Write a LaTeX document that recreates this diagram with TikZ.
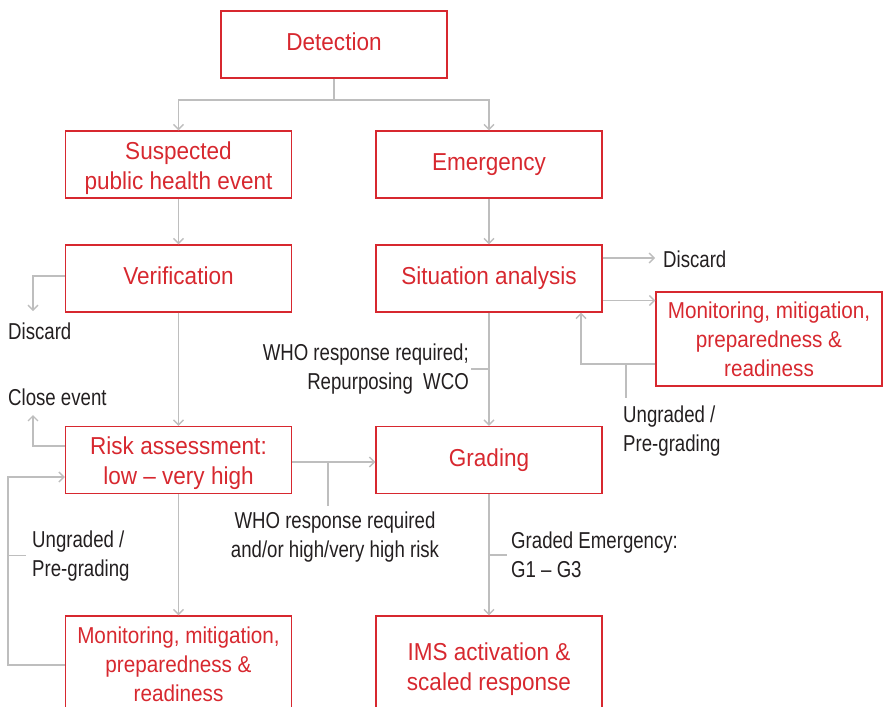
\documentclass[tikz,border=0pt]{standalone}
\usepackage{fontspec}
\setmainfont{Liberation Sans}
\newfontfamily\boxfont[FakeStretch=0.92]{Liberation Sans}
\newfontfamily\monfont[FakeStretch=0.90]{Liberation Sans}
\newfontfamily\labfont[FakeStretch=0.81]{Liberation Sans}
\usetikzlibrary{arrows.meta}
\definecolor{whored}{HTML}{D7282F}
\definecolor{flowgray}{HTML}{BEBEBE}
\definecolor{notegray}{HTML}{231F20}
\newcommand{\topgap}[1]{\rule{0pt}{#1pt}}

\begin{document}
\begin{tikzpicture}[x=1pt,y=-1pt]
\tikzstyle{every node}+=[inner sep=0pt]
\tikzstyle{stage}=[draw=whored, line width=1.4pt, text=whored, align=center, minimum width=226pt, minimum height=67pt, font=\boxfont\fontsize{24.5}{30}\selectfont]
\tikzstyle{oneline}=[stage, text height=17.5pt, text depth=5.2pt]
\tikzstyle{tallstage}=[stage, minimum height=94pt, font=\monfont\fontsize{23}{29}\selectfont]
\tikzstyle{note}=[text=notegray, align=left, font=\labfont\fontsize{23}{29}\selectfont]
\tikzstyle{flow}=[draw=flowgray, line width=1.3pt]
\tikzstyle{flowarr}=[flow, -{Straight Barb[length=5pt,width=10pt]}]
\useasboundingbox (0,0) rectangle (884,707);
\clip (0,0) rectangle (884,707);
% stages
\node[oneline] (detect) at (334,44.5) {Detection};
\node[stage] (suspect) at (178.5,164.5) {\topgap{26}Suspected\\public health event};
\node[oneline] (emerg) at (489,164.5) {Emergency};
\node[oneline] (verif) at (178.5,278.5) {Verification};
\node[oneline] (situ) at (489,278.5) {Situation analysis};
\node[tallstage] (monR) at (769,339) {Monitoring, mitigation,\\preparedness \&\\readiness};
\node[stage] (risk) at (178.5,460) {\topgap{23.5}Risk assessment:\\low – very high};
\node[oneline] (grading) at (489,460) {Grading};
\node[tallstage, minimum height=97pt] (monB) at (178.5,664.5) {Monitoring, mitigation,\\preparedness \&\\readiness};
\node[stage, minimum height=106pt] (ims) at (489,669) {IMS activation \&\\scaled response};
% notes
\node[note, anchor=west] (discL) at (8,331) {Discard};
\node[note, anchor=west] (closeEv) at (8,397) {Close event};
\node[note, anchor=west] (discR) at (663,259) {Discard};
\node[note, align=right, anchor=east] (whoRep) at (469,369) {WHO response required;\\Repurposing~~WCO};
\node[note, anchor=west] (ungR) at (623,431.5) {Ungraded /\\Pre-grading};
\node[note, align=center] (whoHigh) at (335,537.5) {WHO response required\\and/or high/very high risk};
\node[note, anchor=west] (ungL) at (32,556.5) {Ungraded /\\Pre-grading};
\node[note, anchor=west] (graded) at (511,555) {Graded Emergency:\\G1 – G3};
% main flow
\coordinate (split) at (334,100);
\draw[flow] (detect) -- (split);
\draw[flowarr] (split) -| (suspect);
\draw[flowarr] (split) -| (emerg);
\draw[flowarr] (suspect) -- (verif);
\draw[flowarr] (emerg) -- (situ);
\draw[flowarr] (verif) -- (risk);
\draw[flowarr] (risk) -- (monB);
\draw[flowarr] (situ) -- (grading);
\draw[flowarr] (grading) -- (ims);
\draw[flowarr] ([yshift=-2pt]risk.east) -- ([yshift=-2pt]risk.east -| grading.west);
% left exits and loop
\coordinate (discTip) at (33,311);
\draw[flowarr] ([yshift=2.5pt]verif.west) -| (discTip);
\coordinate (closeTip) at (33,415);
\draw[flowarr] ([yshift=14pt]risk.west) -| (closeTip);
\coordinate (loopL) at (8,665);
\draw[flowarr] (monB.west |- loopL) -- (loopL) |- ([yshift=-17pt]risk.west);
\draw[flow] ([yshift=1pt]loopL |- ungL.west) -- ([xshift=-6pt,yshift=1pt]ungL.west);
% right exits and loop
\coordinate (discRtip) at (655,258);
\draw[flowarr] (situ.east |- discRtip) -- (discRtip);
\draw[flowarr] ([yshift=-22pt]situ.east) -- ([yshift=-22pt]situ.east -| monR.west);
\coordinate (backR) at (581,364);
\draw[flowarr] ([yshift=-25pt]monR.west) -- (backR) -- (backR |- situ.south);
\draw[flow] ([xshift=3pt]ungR.north west |- backR) -- ([xshift=3pt,yshift=8pt]ungR.north west);
% ticks to notes
\draw[flow] (situ.south |- whoRep.east) -- ([xshift=2pt]whoRep.east);
\draw[flow] ([xshift=-7pt,yshift=-2pt]risk.east -| whoHigh.north) -- ([xshift=-7pt,yshift=6pt]whoHigh.north);
\draw[flow] (grading.south |- graded.west) -- ([xshift=-4pt]graded.west);
\end{tikzpicture}
\end{document}
